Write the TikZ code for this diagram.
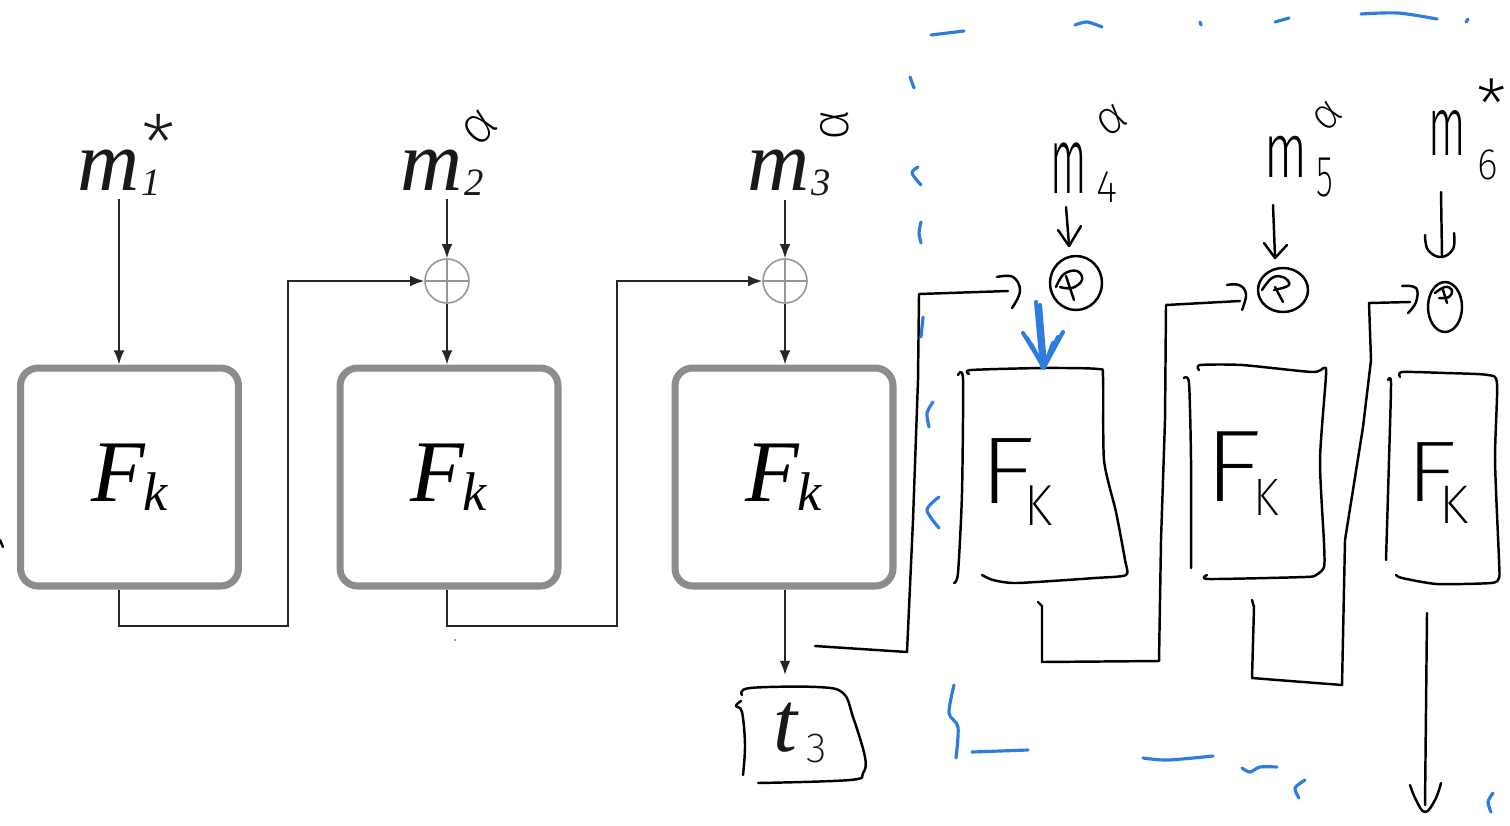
\documentclass[tikz,border=0pt]{standalone}
\usepackage{fontspec}
\usepackage{graphicx}
\usetikzlibrary{arrows.meta,calc}
\newfontfamily\tms{Liberation Serif}
\IfFontExistsTF{Fira Sans ExtraLight}
  {\newfontfamily\hand{Fira Sans ExtraLight}}
  {\newfontfamily\hand{Fira Sans}}
\IfFontExistsTF{Fira Sans Light}
  {\newfontfamily\handm{Fira Sans Light}}
  {\newfontfamily\handm{Fira Sans}}
\newdimen\px \px=0.02cm
% handwritten glyph: #1 horizontal squeeze, #2 size, #3 text
\newcommand\hw[3]{\scalebox{#1}[1]{\hand\fontsize{#2}{#2}\selectfont #3}}
\newcommand\hwm[3]{\scalebox{#1}[1]{\handm\fontsize{#2}{#2}\selectfont #3}}
% handwritten F_K: F squeeze, F size, kern, K raise, K squeeze, K size
\newcommand\hfk[6]{\hw{#1}{#2}{F}\kern#3\px\raisebox{#4\px}{\hw{#5}{#6}{K}}}
% typeset message label with subscript
\newcommand\msg[2]{{\tms\itshape\fontsize{49}{49}\selectfont #1\kern1pt\raisebox{-3pt}{\fontsize{22}{22}\selectfont #2}}}
\newcommand\prf{{\tms\itshape\fontsize{50}{50}\selectfont F\kern-1pt\raisebox{-5pt}{\fontsize{31}{31}\selectfont k}}}
\definecolor{boxgray}{RGB}{140,140,140}
\definecolor{xgray}{RGB}{150,150,150}
\definecolor{inkblue}{RGB}{45,125,225}
\begin{document}
\begin{tikzpicture}[x=0.02cm,y=-0.02cm,
  ln/.style={line width=0.9pt, black!85},
  arr/.style={ln, -{Latex[length=8pt,width=6pt]}},
  fbox/.style={draw=boxgray, line width=4pt, rounded corners=10pt,
    minimum width=4.36cm, minimum height=4.36cm, inner sep=0pt, fill=white},
  xorc/.style={circle, draw=xgray, line width=0.9pt, minimum size=0.88cm, inner sep=0pt,
    path picture={\draw[xgray, line width=0.6pt]
      (path picture bounding box.north) -- (path picture bounding box.south)
      (path picture bounding box.west) -- (path picture bounding box.east);}},
  lbl/.style={inner sep=2pt, text=black!90},
  hwn/.style={inner sep=0pt},
  ink/.style={line width=1.4pt, line cap=round, line join=round},
  blu/.style={ink, draw=inkblue, line width=1.8pt}]
\useasboundingbox (0,0) rectangle (1510,825);
\fill[white] (0,0) rectangle (1510,825);

% ---------- typeset CBC chain ----------
\node[fbox] (b1) at (129.5,477) {\prf};
\node[fbox] (b2) at (449,477) {\prf};
\node[fbox] (b3) at (784,477) {\prf};
\node[xorc] (x2) at (447,281) {};
\node[xorc] (x3) at (785,281) {};
\node[lbl, anchor=base] (m1) at (119,190)
  {\msg{m}{1}\rlap{\kern-19\px\raisebox{18\px}{\hand\fontsize{45}{45}\selectfont *}}};
\node[lbl, anchor=base] (m2) at (442,190) {\msg{m}{2}};
\node[lbl, anchor=base] (m3) at (789,190) {\msg{m}{3}};
\coordinate (j1) at (288,626);
\coordinate (j2) at (617,626);
\node[lbl, inner xsep=0pt, inner ysep=0.56cm] (t3) at (800,733)
  {{\tms\itshape\fontsize{49}{49}\selectfont t}\kern5pt\raisebox{-6pt}{\hand\fontsize{24}{24}\selectfont 3}};

\draw[arr] (m1.south) -- (m1.south |- b1.north);
\draw[arr] (x2 |- m2.south) -- (x2.north);
\draw[arr] (x2.south) -- (x2 |- b2.north);
\draw[arr] (x3 |- m3.south) -- (x3.north);
\draw[arr] (x3.south) -- (x3 |- b3.north);
\draw[arr] (m1 |- b1.south) |- (j1) |- (x2.west);
\draw[arr] (x2 |- b2.south) |- (j2) |- (x3.west);
\draw[arr] (x3 |- b3.south) -- (x3 |- t3.north);

% ---------- handwritten marks on the typeset part ----------
\node[hwn, rotate=45] (m2a) at (480,128) {\hw{1}{30}{α}};
\node[hwn, rotate=90] (m3a) at (835,125) {\hw{1}{30}{α}};
\draw[ink] plot[smooth, tension=0.6] coordinates {(742,695) (750,688) (817,687) (843,693) (853,717) (865,757) (863,773) (850,780) (758,783)};
\draw[ink] plot[smooth, tension=0.6] coordinates {(741,701) (736,706) (742,712) (745,745) (743,775)};
\draw[ink] (0,540) -- (3,547);
\fill[red!70] (455,640) circle (1.2);

% ---------- handwritten continuation ----------
\node[hwn] (m4) at (1069,168) {\hwm{0.45}{54}{m}};
\node[hwn] (m4s) at (1107,187) {\hw{0.9}{26}{4}};
\node[hwn, rotate=35] (m4a) at (1112,120) {\hw{1}{27}{α}};
\node[hwn] (m5) at (1286,157) {\hwm{0.65}{44}{m}};
\node[hwn] (m5s) at (1325,178) {\hw{0.6}{33}{5}};
\node[hwn, rotate=45] (m5a) at (1328,116) {\hw{1}{25}{α}};
\node[hwn] (m6) at (1447,133) {\hwm{0.52}{48}{m}};
\node[hwn] (m6s) at (1488,165) {\hw{0.9}{25}{6}};
\node[hwn, anchor=north] (m6a) at (1492,78) {\hw{1}{40}{*}};

\node[hwn, anchor=base west] (k1) at (978,503) {\hfk{1.25}{54}{-10}{-22}{0.9}{33}};
\node[hwn, anchor=base west] (k2) at (1203,501) {\hfk{1.2}{58}{-8}{-14}{0.9}{30}};
\node[hwn, anchor=base west] (k3) at (1405,501) {\hfk{1.25}{49}{-17}{-22}{1}{31}};

% input arrows
\draw[ink] (1066,207) -- (1069,245);
\draw[ink] (1058,230) -- (1069,246) -- (1081,226);
\draw[ink] (1273,205) -- (1275,257);
\draw[ink] (1264,243) -- (1275,258) -- (1287,245);
\draw[ink] (1441,192) -- (1442,257);
\draw[ink] plot[smooth, tension=0.7] coordinates {(1425,235) (1428,250) (1441,257) (1453,249) (1454,233)};

% xor circles
\draw[ink] (1076,283) ellipse (26 and 27);
\draw[ink] plot[smooth, tension=0.7] coordinates {(1056,287) (1064,274) (1077,271) (1082,280) (1072,288) (1060,287)};
\draw[ink] (1066,276) -- (1074,300);
\draw[ink] (1283,290) ellipse (25 and 22);
\draw[ink] plot[smooth, tension=0.7] coordinates {(1262,290) (1272,278) (1283,277) (1289,285) (1274,290)};
\draw[ink] (1275,287) -- (1283,302);
\draw[ink] (1445,307) ellipse (17 and 25);
\draw[ink] plot[smooth, tension=0.7] coordinates {(1435,293) (1445,287) (1452,290) (1449,297) (1439,298)};
\draw[ink] (1443,290) -- (1447,303);

% boxes
\draw[ink] plot[smooth, tension=0.4] coordinates {(958,375) (963,379) (962,493) (958,573) (954,583)};
\draw[ink] plot[smooth, tension=0.4] coordinates {(969,374) (971,370) (1044,368) (1098,369) (1103,377) (1104,460) (1116,512) (1125,560) (1126,575) (1095,578) (1017,583) (993,580) (982,575)};
\draw[ink] plot[smooth, tension=0.4] coordinates {(1184,378) (1189,383) (1191,460) (1191,568)};
\draw[ink] plot[smooth, tension=0.4] coordinates {(1199,370) (1200,365) (1242,365) (1312,372) (1324,368) (1326,375) (1320,460) (1324,543) (1324,567) (1316,575) (1305,577) (1209,579) (1207,575)};
\draw[ink] plot[smooth, tension=0.4] coordinates {(1388,380) (1391,383) (1389,460) (1386,560)};
\draw[ink] plot[smooth, tension=0.4] coordinates {(1400,377) (1402,372) (1445,373) (1488,375) (1497,384) (1495,460) (1499,560) (1499,578) (1491,583) (1437,584) (1402,578) (1396,575)};

% chaining lines with hooked heads
\draw[ink] (815,646) -- (907,652) -- (913,520) -- (918,380) -- (919,294) -- (1008,291);
\draw[ink] plot[smooth, tension=0.7] coordinates {(997,277) (1013,277) (1020,291) (1012,308)};
\draw[ink] (1038,602) -- (1042,606) -- (1042,662) -- (1159,661) -- (1161,540) -- (1165,420) -- (1166,305) -- (1240,301);
\draw[ink] plot[smooth, tension=0.7] coordinates {(1227,285) (1239,285) (1246,294) (1242,310)};
\draw[ink] (1252,600) -- (1254,607) -- (1252,678) -- (1290,681) -- (1342,685) -- (1345,540) -- (1363,427) -- (1371,360) -- (1369,303) -- (1410,302);
\draw[ink] plot[smooth, tension=0.7] coordinates {(1402,286) (1416,288) (1416,302) (1408,313)};

% output arrow
\draw[ink] (1427,613) -- (1425,805);
\draw[ink] plot[smooth, tension=0.7] coordinates {(1410,785) (1416,800) (1425,812) (1435,800) (1441,783)};

% blue arrow into the first box
\draw[blu, line width=2.3pt] (1036,302) -- (1042,367);
\draw[blu, line width=2.3pt] (1040,305) -- (1045,366);
\draw[blu, line width=2.3pt] (1023,333) -- (1044,367) -- (1063,332);
\draw[blu, line width=2.3pt] (1027,338) -- (1043,366) -- (1058,337);
\draw[blu, line width=2.3pt] (1031,344) -- (1044,368) -- (1053,343);

% blue dashed frame
\draw[blu] (931,35) -- (964,31);
\draw[blu] plot[smooth] coordinates {(1075,25) (1087,22) (1102,27)};
\draw[blu] (1200,22) -- (1201,25);
\draw[blu] (1275,22) -- (1289,18);
\draw[blu] plot[smooth] coordinates {(1361,14) (1398,13) (1437,19)};
\draw[blu] (1466,22) -- (1468,19);
\draw[blu] (910,77) -- (914,88);
\draw[blu] plot[smooth] coordinates {(918,167) (912,173) (921,185)};
\draw[blu] plot[smooth] coordinates {(921,222) (919,233) (921,243)};
\draw[blu] (923,317) -- (921,337);
\draw[blu] plot[smooth] coordinates {(933,402) (927,413) (929,427)};
\draw[blu] plot[smooth] coordinates {(939,497) (927,510) (939,528)};
\draw[blu] plot[smooth] coordinates {(954,685) (949,713) (958,727) (956,758)};
\draw[blu] (972,752) -- (1028,750);
\draw[blu] plot[smooth] coordinates {(1143,758) (1168,760) (1213,756)};
\draw[blu] plot[smooth] coordinates {(1242,768) (1250,772) (1260,767) (1277,767)};
\draw[blu] plot[smooth] coordinates {(1305,780) (1295,788) (1299,798)};
\draw[blu] plot[smooth] coordinates {(1493,793) (1488,802) (1491,812)};
\end{tikzpicture}
\end{document}
